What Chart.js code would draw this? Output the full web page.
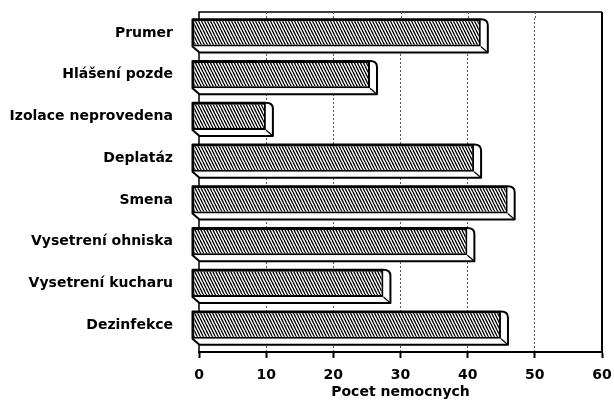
<!DOCTYPE html>
<html><head><meta charset="utf-8">
<script src="https://cdn.jsdelivr.net/npm/chart.js@4/dist/chart.umd.min.js"></script>
<style>html,body{margin:0;padding:0;background:#fff;}</style>
</head><body>
<canvas id="c" width="614" height="401"></canvas>
<script>
const categories = ['Prumer', 'Hlášení pozde', 'Izolace neprovedena', 'Deplatáz', 'Smena', 'Vysetrení ohniska', 'Vysetrení kucharu', 'Dezinfekce'];
const values = [43, 26.5, 11, 42, 47, 41, 28.5, 46];
const xTicks = [0, 10, 20, 30, 40, 50, 60];
const axisTitle = 'Pocet nemocnych';

const DX = 7, DY = 6;
const FONT = 'DejaVu Sans';

function makeHatch() {
  const c = document.createElement('canvas');
  c.width = 3; c.height = 6;
  const g = c.getContext('2d');
  g.fillStyle = '#fff'; g.fillRect(0, 0, 3, 6);
  g.strokeStyle = '#000'; g.lineWidth = 1.3;
  for (const k of [-3, 0, 3]) { g.beginPath(); g.moveTo(k, 0); g.lineTo(k + 3, 6); g.stroke(); }
  return g.createPattern(c, 'repeat');
}

function noPad(scale) {
  scale.paddingLeft = 0; scale.paddingRight = 0; scale.paddingTop = 0; scale.paddingBottom = 0;
}

const bar3d = {
  id: 'bar3d',
  beforeDatasetsDraw(chart) {
    const {ctx, chartArea: a, scales} = chart;
    const top = a.top - DY;
    ctx.save();
    ctx.strokeStyle = '#000';
    ctx.lineWidth = 1.5;
    ctx.beginPath();
    ctx.moveTo(a.left, a.bottom); ctx.lineTo(a.left, top); ctx.lineTo(a.right, top);
    ctx.stroke();
    ctx.lineWidth = 2;
    ctx.beginPath(); ctx.moveTo(a.right, top); ctx.lineTo(a.right, a.bottom); ctx.stroke();
    ctx.strokeStyle = '#555'; ctx.lineWidth = 1; ctx.setLineDash([2, 2]);
    xTicks.slice(1, -1).forEach(v => {
      const px = Math.round(scales.x.getPixelForValue(v)) + 0.5;
      ctx.beginPath(); ctx.moveTo(px, top); ctx.lineTo(px, a.top); ctx.stroke();
    });
    ctx.restore();
  },
  beforeDatasetDraw(chart, args) {
    const ctx = chart.ctx;
    ctx.save();
    ctx.translate(-DX, -DY);
    args.meta.data.forEach(el => {
      const {x, y, base, height} = el.getProps(['x', 'y', 'base', 'height'], true);
      const xs = Math.min(x, base), xe = Math.max(x, base);
      const yt = y - height / 2, yb = y + height / 2;
      ctx.beginPath();
      ctx.moveTo(xs, yt); ctx.lineTo(xe, yt);
      ctx.quadraticCurveTo(xe + DX, yt, xe + DX, yt + DY);
      ctx.lineTo(xe + DX, yb + DY); ctx.lineTo(xs + DX, yb + DY);
      ctx.lineTo(xs, yb); ctx.closePath();
      ctx.fillStyle = '#fff'; ctx.fill();
      ctx.lineWidth = 2; ctx.strokeStyle = '#000'; ctx.lineJoin = 'round'; ctx.stroke();
      ctx.beginPath(); ctx.moveTo(xe, yb); ctx.lineTo(xe + DX, yb + DY);
      ctx.lineWidth = 1.2; ctx.stroke();
    });
  },
  afterDatasetDraw(chart) { chart.ctx.restore(); }
};

const tickFont = {family: FONT, weight: 'bold', size: 14};

new Chart(document.getElementById('c'), {
  type: 'bar',
  data: {
    labels: categories,
    datasets: [{
      data: values,
      backgroundColor: makeHatch(),
      borderColor: '#000',
      borderWidth: 2,
      borderSkipped: false,
      barPercentage: 0.65,
      categoryPercentage: 1,
      clip: false
    }]
  },
  options: {
    indexAxis: 'y',
    responsive: false,
    animation: false,
    devicePixelRatio: 1,
    layout: {padding: {left: 0, right: 12, top: 18, bottom: 0}},
    plugins: {legend: {display: false}, tooltip: {enabled: false}},
    scales: {
      x: {
        type: 'linear', min: 0, max: 60,
        afterBuildTicks(scale) { scale.ticks = xTicks.map(v => ({value: v})); },
        ticks: {color: '#000', font: tickFont, padding: 9, maxRotation: 0},
        grid: {
          color: c => (c.tick && (c.tick.value === 0 || c.tick.value === 60)) ? 'rgba(0,0,0,0)' : '#555',
          lineWidth: 1, tickColor: '#000', tickLength: 6, tickWidth: 2, tickBorderDash: []
        },
        border: {display: true, color: '#000', width: 2, dash: [2, 2]},
        title: {display: true, text: axisTitle, color: '#000', font: tickFont, padding: {top: 0, bottom: 0}},
        afterFit(scale) { scale.height = 49; noPad(scale); }
      },
      y: {
        type: 'category', offset: true,
        grid: {display: false, drawTicks: false},
        border: {display: false},
        ticks: {color: '#000', font: tickFont, padding: 26, labelOffset: -6, autoSkip: false},
        afterFit(scale) { scale.width = 199; noPad(scale); }
      }
    }
  },
  plugins: [bar3d]
});
</script>
</body></html>
